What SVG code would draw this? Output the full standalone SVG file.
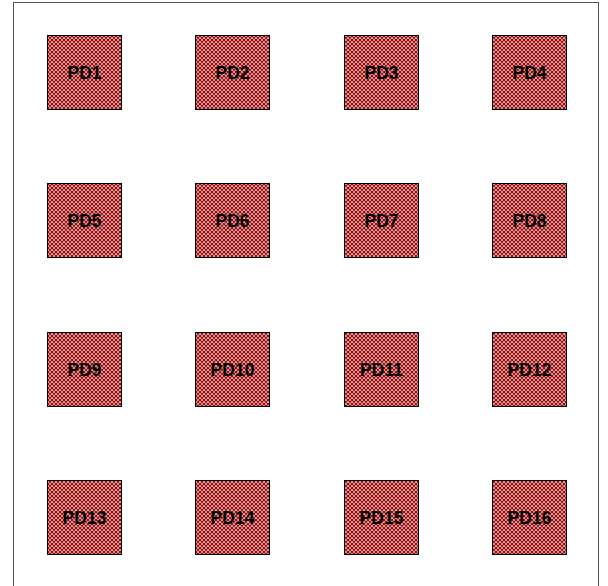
<svg xmlns="http://www.w3.org/2000/svg" width="608" height="586" viewBox="0 0 608 586">
<defs>
<pattern id="hatch" patternUnits="userSpaceOnUse" width="4" height="4">
<rect width="4" height="4" fill="#ffffff"/>
<path d="M-1,1 L1,-1 M0,4 L4,0 M3,5 L5,3 M-1,3 L1,5 M0,0 L4,4 M3,-1 L5,1" stroke="#9a0a0a" stroke-width="1.35"/>
</pattern>
<style>
.pd rect{fill:url(#hatch);stroke:#000;stroke-width:1}
.pd text{font-family:"Liberation Sans",Arial,sans-serif;font-weight:bold;font-size:17.5px;fill:#000;text-anchor:middle;dominant-baseline:central}
</style>
</defs>
<rect x="13.5" y="2.5" width="585" height="590" fill="#fff" stroke="#555" stroke-width="1"/>
<g id="PD1" class="pd"><rect x="47.5" y="35.5" width="74" height="74"/><text x="84.5" y="73">PD1</text></g>
<g id="PD2" class="pd"><rect x="195.5" y="35.5" width="74" height="74"/><text x="232.5" y="73">PD2</text></g>
<g id="PD3" class="pd"><rect x="344.5" y="35.5" width="74" height="74"/><text x="381.5" y="73">PD3</text></g>
<g id="PD4" class="pd"><rect x="492.5" y="35.5" width="74" height="74"/><text x="529.5" y="73">PD4</text></g>
<g id="PD5" class="pd"><rect x="47.5" y="183.5" width="74" height="74"/><text x="84.5" y="221">PD5</text></g>
<g id="PD6" class="pd"><rect x="195.5" y="183.5" width="74" height="74"/><text x="232.5" y="221">PD6</text></g>
<g id="PD7" class="pd"><rect x="344.5" y="183.5" width="74" height="74"/><text x="381.5" y="221">PD7</text></g>
<g id="PD8" class="pd"><rect x="492.5" y="183.5" width="74" height="74"/><text x="529.5" y="221">PD8</text></g>
<g id="PD9" class="pd"><rect x="47.5" y="332.5" width="74" height="74"/><text x="84.5" y="370">PD9</text></g>
<g id="PD10" class="pd"><rect x="195.5" y="332.5" width="74" height="74"/><text x="232.5" y="370">PD10</text></g>
<g id="PD11" class="pd"><rect x="344.5" y="332.5" width="74" height="74"/><text x="381.5" y="370">PD11</text></g>
<g id="PD12" class="pd"><rect x="492.5" y="332.5" width="74" height="74"/><text x="529.5" y="370">PD12</text></g>
<g id="PD13" class="pd"><rect x="47.5" y="480.5" width="74" height="74"/><text x="84.5" y="518">PD13</text></g>
<g id="PD14" class="pd"><rect x="195.5" y="480.5" width="74" height="74"/><text x="232.5" y="518">PD14</text></g>
<g id="PD15" class="pd"><rect x="344.5" y="480.5" width="74" height="74"/><text x="381.5" y="518">PD15</text></g>
<g id="PD16" class="pd"><rect x="492.5" y="480.5" width="74" height="74"/><text x="529.5" y="518">PD16</text></g>
<g id="connectors"/>
</svg>
